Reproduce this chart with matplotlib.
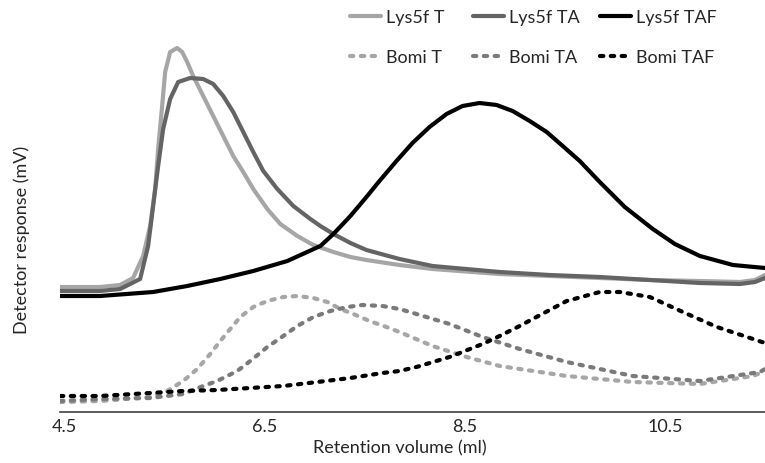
import matplotlib
matplotlib.use("Agg")
import matplotlib.pyplot as plt
from matplotlib.lines import Line2D

plt.rcParams['font.family'] = ['Lato', 'DejaVu Sans']

# Retention volume (ml) and detector response (arbitrary mV scale)
lys_t_x = [4.46, 4.86, 5.06, 5.19, 5.29, 5.36, 5.41, 5.44, 5.48, 5.51, 5.56, 5.63, 5.68, 5.73,
           5.79, 5.89, 5.99, 6.09, 6.19, 6.29, 6.39, 6.53, 6.66, 6.83, 6.99, 7.19, 7.36,
           7.52, 7.85, 8.18, 8.85, 9.35, 9.85, 10.35, 10.85, 11.25, 11.40, 11.50]
lys_t_y = [125, 125, 127, 134, 156, 186, 223, 263, 306, 340, 360, 364, 360, 350,
           336, 316, 296, 276, 256, 240, 223, 203, 188, 176, 167, 160, 155,
           152, 147, 143, 138, 136, 134, 132, 131, 130, 132, 137]

lys_ta_x = [4.46, 4.86, 5.06, 5.26, 5.34, 5.39, 5.44, 5.49, 5.56, 5.64, 5.76, 5.89, 5.99,
            6.09, 6.19, 6.29, 6.39, 6.49, 6.63, 6.79, 6.96, 7.06, 7.19, 7.36, 7.52, 7.85,
            8.18, 8.85, 9.35, 9.85, 10.35, 10.85, 11.25, 11.40, 11.50]
lys_ta_y = [121, 121, 123, 133, 166, 206, 246, 283, 313, 330, 334, 333, 328,
            316, 300, 280, 260, 241, 223, 206, 193, 186, 178, 169, 162, 153,
            146, 140, 137, 135, 132, 129, 128, 130, 134]

lys_taf_x = [4.46, 4.86, 5.39, 5.73, 6.06, 6.39, 6.73, 7.06, 7.19, 7.36, 7.52, 7.65, 7.82,
             7.98, 8.15, 8.32, 8.48, 8.65, 8.82, 8.98, 9.15, 9.32, 9.48, 9.65, 9.85, 10.10,
             10.38, 10.60, 10.85, 11.18, 11.50]
lys_taf_y = [116, 116, 120, 126, 133, 141, 151, 166, 178, 196, 215, 231, 251,
             269, 285, 298, 306, 309, 307, 301, 291, 280, 266, 251, 230, 205,
             183, 168, 156, 147, 144]

bomi_t_x = [4.46, 4.86, 5.36, 5.53, 5.69, 5.83, 5.96, 6.06, 6.16, 6.26, 6.39, 6.53, 6.69,
            6.83, 6.99, 7.13, 7.26, 7.39, 7.55, 7.72, 7.85, 8.18, 8.52, 8.85, 9.05, 9.52,
            10.18, 10.85, 11.38, 11.50]
bomi_t_y = [10, 11, 15, 21, 31, 43, 58, 71, 83, 95, 105, 111, 115,
            116, 114, 110, 103, 98, 91, 85, 80, 66, 55, 46, 43, 36,
            30, 28, 36, 41]

bomi_ta_x = [4.46, 4.86, 5.36, 5.69, 5.89, 6.03, 6.23, 6.36, 6.53, 6.69, 6.83, 6.99, 7.16,
             7.33, 7.48, 7.68, 7.85, 8.02, 8.35, 8.68, 9.05, 9.52, 10.18, 10.85, 11.45, 11.50]
bomi_ta_y = [11, 13, 14, 18, 26, 31, 41, 51, 65, 76, 86, 95, 101,
             105, 107, 106, 103, 98, 88, 75, 63, 50, 36, 31, 40, 43]

bomi_taf_x = [4.46, 4.86, 5.36, 5.69, 6.03, 6.36, 6.69, 7.03, 7.36, 7.68, 7.85, 8.02, 8.35,
              8.68, 8.85, 9.05, 9.18, 9.52, 9.85, 10.05, 10.35, 10.68, 11.02, 11.47, 11.50]
bomi_taf_y = [16, 16, 19, 21, 22, 24, 26, 30, 34, 39, 41, 45, 55,
              68, 76, 86, 93, 111, 120, 120, 115, 100, 85, 70, 69]

x_ticks = [4.5, 6.5, 8.5, 10.5]

fig = plt.figure(figsize=(7.65, 4.64), dpi=100)
ax = fig.add_axes([60 / 765, 51 / 464, 705 / 765, 413 / 464])

solid = dict(linewidth=3, solid_capstyle='round', solid_joinstyle='round')
dashed = dict(linewidth=3, linestyle=(0, (0.8, 1.8)), dash_capstyle='round')

ax.plot(lys_t_x, lys_t_y, color='#a6a6a6', **solid)
ax.plot(lys_ta_x, lys_ta_y, color='#646464', **solid)
ax.plot(bomi_t_x, bomi_t_y, color='#a6a6a6', **dashed)
ax.plot(bomi_ta_x, bomi_ta_y, color='#7a7a7a', **dashed)
ax.plot(bomi_taf_x, bomi_taf_y, color='#000000', **dashed)
ax.plot(lys_taf_x, lys_taf_y, color='#000000', **solid)

ax.set_xlim(4.46, 11.5)
ax.set_ylim(0, 413)
ax.set_xticks(x_ticks)
ax.set_xticklabels([str(t) for t in x_ticks])
ax.set_yticks([])
ax.tick_params(axis='x', length=0, pad=4, labelsize=13, labelcolor='#262626')
for side in ['top', 'right', 'left']:
    ax.spines[side].set_visible(False)
ax.spines['bottom'].set_color('#404040')
ax.spines['bottom'].set_linewidth(1.2)

ax.set_xlabel("Retention volume (ml)", fontsize=13, color='#262626')
ax.xaxis.set_label_coords(0.482, -0.085)
ax.xaxis.label.set_va('center')
ax.set_ylabel("Detector response (mV)", fontsize=13, color='#262626')
ax.yaxis.set_label_coords(-0.054, 0.419)
ax.yaxis.label.set_va('center')

# legend: three columns placed by hand, two rows each
columns = [
    (350, [("Lys5f T", '#a6a6a6', 'solid'), ("Bomi T", '#a6a6a6', 'dash')]),
    (473, [("Lys5f TA", '#646464', 'solid'), ("Bomi TA", '#7a7a7a', 'dash')]),
    (600, [("Lys5f TAF", '#000000', 'solid'), ("Bomi TAF", '#000000', 'dash')]),
]
for x0, entries in columns:
    handles = []
    labels = []
    for label, color, style in entries:
        if style == 'solid':
            h = Line2D([], [], color=color, **solid)
        else:
            h = Line2D([], [], color=color, **dashed)
        handles.append(h)
        labels.append(label)
    fig.legend(handles, labels, loc='upper left', bbox_to_anchor=(x0 / 765, 1 - 10 / 464),
               frameon=False, fontsize=13, handlelength=1.7, handletextpad=0.3,
               labelspacing=1.35, borderpad=0, borderaxespad=0, labelcolor='#262626')

fig.savefig("out.png", dpi=100)
